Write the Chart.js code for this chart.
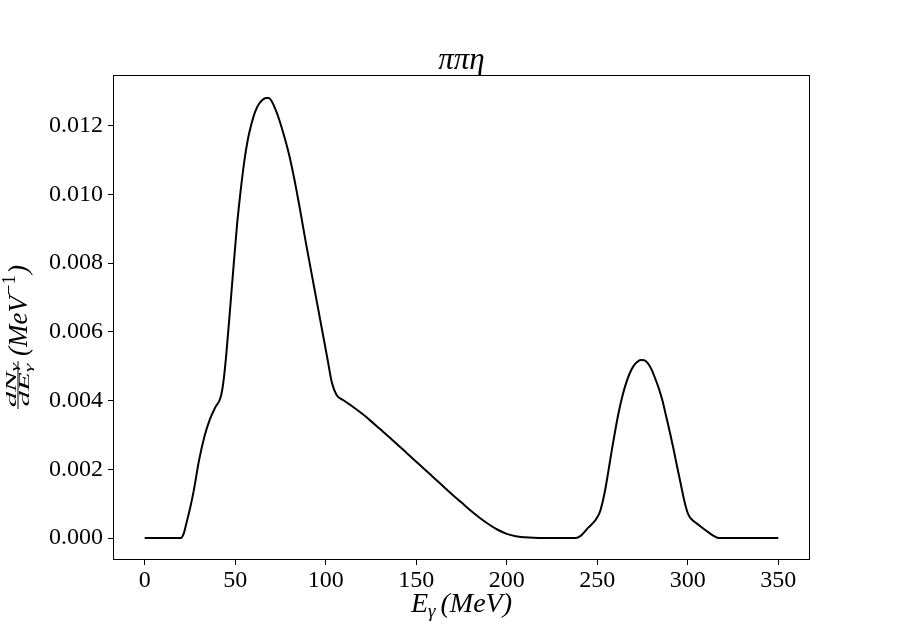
<!DOCTYPE html>
<html>
<head>
<meta charset="utf-8">
<script src="https://cdn.jsdelivr.net/npm/chart.js@4.4.1/dist/chart.umd.min.js"></script>
<style>
  html, body { margin: 0; padding: 0; background: #fff; }
  #wrap { width: 900px; height: 630px; }
</style>
</head>
<body>
<div id="wrap"><canvas id="spectrum" width="900" height="630"></canvas></div>
<script>
// photon energy E_gamma (MeV)
const energy = [
  0, 20, 21.5, 23, 25, 27, 30, 33, 36, 39, 42, 43.5, 45, 47, 49, 51, 53, 55, 57, 59,
  61, 63, 65, 67, 68.5, 70, 72, 74, 77, 80, 83, 86, 89, 92, 95, 98, 101, 103.5, 106,
  110, 115, 120, 125, 130, 135, 140, 145, 150, 155, 160, 165, 170, 175, 180, 185, 190,
  195, 200, 205, 210, 215, 220, 238, 241, 245, 249, 251, 252, 254, 256, 258, 260, 262,
  264, 266, 268, 270, 272, 274, 276, 278, 280, 282, 284, 286, 288, 290, 292, 294, 296,
  298, 300, 301.5, 306, 310, 314, 317, 350
];

// dN/dE (MeV^-1)
const dNdE = [
  0, 0, 0.00012, 0.00042, 0.00085, 0.00135, 0.00225, 0.00295, 0.00345, 0.0038, 0.0041,
  0.00455, 0.0053, 0.00655, 0.00785, 0.0091, 0.0101, 0.01095, 0.0116, 0.01205,
  0.0124, 0.01262, 0.01274, 0.0128, 0.0128, 0.01272, 0.0125, 0.01222, 0.0117, 0.0111,
  0.01035, 0.0095, 0.0086, 0.00775, 0.0069, 0.00605, 0.0052, 0.0045, 0.00416,
  0.004, 0.00382, 0.00362, 0.0034, 0.00317, 0.00294, 0.0027, 0.00246, 0.00222,
  0.00198, 0.00174, 0.0015, 0.00126, 0.00103, 0.0008, 0.00059, 0.0004,
  0.00024, 0.00012, 0.00005, 0.00002, 0.000005, 0, 0, 0.00007, 0.0003, 0.00052,
  0.0007, 0.00085, 0.0013, 0.0019, 0.00255, 0.00315, 0.0037,
  0.00415, 0.00452, 0.0048, 0.005, 0.00512, 0.00518, 0.00517, 0.00508, 0.0049,
  0.00464, 0.00435, 0.004, 0.00355, 0.0031, 0.00262, 0.0021, 0.0016,
  0.0011, 0.00072, 0.00058, 0.00038, 0.00022, 0.00007, 0, 0
];

const xTicks = [0, 50, 100, 150, 200, 250, 300, 350];
const yTicks = [0, 0.002, 0.004, 0.006, 0.008, 0.010, 0.012];

const SERIF = "'Liberation Serif', 'DejaVu Serif', serif";

// frame, title and axis labels (matplotlib look)
const decorations = {
  id: "decorations",
  afterDraw(chart) {
    const { ctx, chartArea: a } = chart;
    ctx.save();
    ctx.strokeStyle = "#000";
    ctx.lineWidth = 1;
    ctx.strokeRect(a.left + 0.5, a.top + 0.5, a.right - a.left - 1, a.bottom - a.top - 1);

    ctx.fillStyle = "#000";
    ctx.textBaseline = "alphabetic";

    // title
    ctx.font = "italic 31px " + SERIF;
    ctx.textAlign = "center";
    ctx.fillText("ππη", (a.left + a.right) / 2, 69);

    // x label: E_γ (MeV)
    const cx = (a.left + a.right) / 2;
    const base = 612;
    ctx.font = "italic 28px " + SERIF;
    const wE = ctx.measureText("E").width;
    const wRest = ctx.measureText("(MeV)").width;
    ctx.font = "italic 19px " + SERIF;
    const wSub = ctx.measureText("γ").width;
    let x = cx - (wE + wSub + 5 + wRest) / 2;
    ctx.textAlign = "left";
    ctx.font = "italic 28px " + SERIF;
    ctx.fillText("E", x, base);
    x += wE;
    ctx.font = "italic 19px " + SERIF;
    ctx.fillText("γ", x, base + 5);
    x += wSub + 5;
    ctx.font = "italic 28px " + SERIF;
    ctx.fillText("(MeV)", x, base);

    // y label: dN_γ/dE_γ (MeV^-1), rotated
    ctx.translate(0, 409);
    ctx.rotate(-Math.PI / 2);
    // fraction (stretched along the text direction)
    const sx = 2.2;
    ctx.save();
    ctx.scale(sx, 1);
    ctx.font = "italic 14px " + SERIF;
    const wd = ctx.measureText("dN").width;
    const wdE = ctx.measureText("dE").width;
    ctx.font = "italic 10px " + SERIF;
    const wg = ctx.measureText("γ").width;
    const fracW = Math.max(wd, wdE) + wg + 1.5;
    ctx.fillRect(0, 17.5, fracW, 1);
    ctx.font = "italic 14px " + SERIF;
    ctx.fillText("dN", (fracW - wd - wg) / 2, 15.5);
    ctx.fillText("dE", (fracW - wdE - wg) / 2, 29);
    ctx.font = "italic 10px " + SERIF;
    ctx.fillText("γ", (fracW - wd - wg) / 2 + wd, 18);
    ctx.fillText("γ", (fracW - wdE - wg) / 2 + wdE, 31.5);
    ctx.restore();
    // (MeV^-1)
    let u = fracW * sx + 5;
    ctx.font = "italic 27px " + SERIF;
    ctx.fillText("(MeV", u, 27);
    u += ctx.measureText("(MeV").width + 1;
    ctx.font = "19px " + SERIF;
    ctx.fillText("−1", u, 15);
    u += ctx.measureText("−1").width + 1;
    ctx.font = "italic 27px " + SERIF;
    ctx.fillText(")", u, 27);
    ctx.restore();
  },
};

new Chart(document.getElementById("spectrum"), {
  type: "line",
  data: {
    datasets: [
      {
        data: energy.map((e, i) => ({ x: e, y: dNdE[i] })),
        borderColor: "#000",
        borderWidth: 2,
        pointRadius: 0,
        fill: false,
        cubicInterpolationMode: "monotone",
      },
    ],
  },
  options: {
    responsive: false,
    animation: false,
    devicePixelRatio: 1,
    layout: { padding: { left: 0, right: 90, top: 75, bottom: 0 } },
    plugins: { legend: { display: false }, tooltip: { enabled: false } },
    scales: {
      x: {
        type: "linear",
        min: -17.5,
        max: 367.5,
        afterBuildTicks: (s) => { s.ticks = xTicks.map((v) => ({ value: v })); },
        afterFit: (s) => { s.height = 70; },
        grid: { drawOnChartArea: false, color: "#000", tickLength: 5 },
        border: { display: false },
        ticks: { color: "#000", padding: 1, maxRotation: 0, font: { family: SERIF, size: 24 } },
      },
      y: {
        type: "linear",
        min: -0.00064,
        max: 0.01347,
        afterBuildTicks: (s) => { s.ticks = yTicks.map((v) => ({ value: v })); },
        afterFit: (s) => { s.width = 113; },
        grid: { drawOnChartArea: false, color: "#000", tickLength: 5 },
        border: { display: false },
        ticks: {
          color: "#000",
          padding: 5,
          font: { family: SERIF, size: 24 },
          callback: (v) => v.toFixed(3),
        },
      },
    },
  },
  plugins: [decorations],
});
</script>
</body>
</html>
